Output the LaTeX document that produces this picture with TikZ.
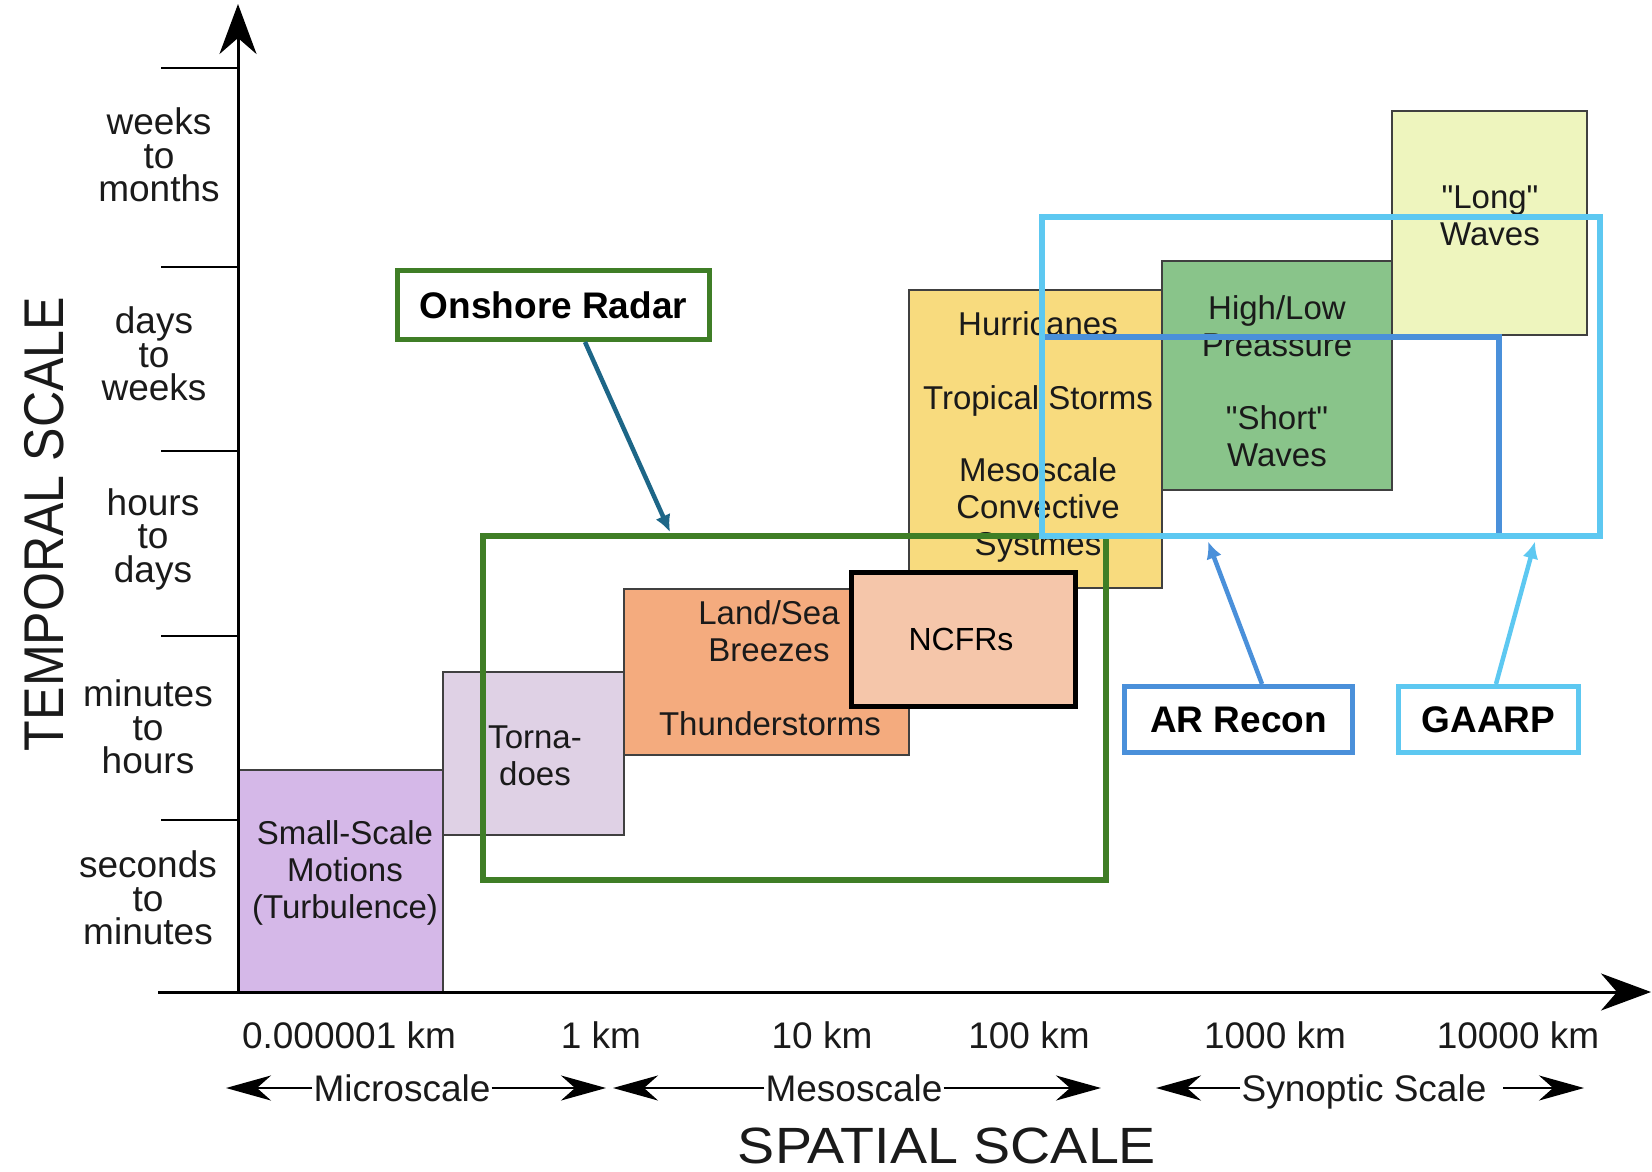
\documentclass[tikz,border=0pt]{standalone}
\usepackage{fontspec}
\setmainfont{Liberation Sans}
\usetikzlibrary{arrows.meta,calc}

\definecolor{cSmall}{HTML}{D5B8E8}
\definecolor{cTorn}{HTML}{DFD1E5}
\definecolor{cLand}{HTML}{F4AB7E}
\definecolor{cNCFR}{HTML}{F5C6AA}
\definecolor{cHurr}{HTML}{F8DB7E}
\definecolor{cHigh}{HTML}{89C48A}
\definecolor{cLong}{HTML}{EEF5BE}
\definecolor{cGreen}{HTML}{3F7E26}
\definecolor{cTeal}{HTML}{1D6687}
\definecolor{cBlue}{HTML}{4A90DA}
\definecolor{cLBlue}{HTML}{5DC8F1}
\definecolor{cText}{HTML}{1A1A1A}

\begin{document}
\begin{tikzpicture}[x=1pt,y=-1pt,
  phenom/.style={draw=black!75, line width=2pt, inner sep=0pt, anchor=north west},
  overlay box/.style={line width=5.5pt, inner sep=0pt, anchor=north west},
  labelbox/.style={line width=5pt, fill=white, inner sep=0pt, anchor=north west,
    font=\fontsize{37}{40}\selectfont\bfseries, text=black},
  boxtext/.style={align=center, inner sep=0pt, text=cText,
    font=\fontsize{33}{37}\selectfont},
  ticktext/.style={align=center, inner sep=0pt, text=cText,
    font=\fontsize{37}{33.5}\selectfont},
  kmtext/.style={inner sep=0pt, text=cText, font=\fontsize{37}{40}\selectfont,
    text height=27pt, text depth=8pt},
  scaletext/.style={inner sep=1pt, text=cText, font=\fontsize{37}{40}\selectfont,
    text height=27pt, text depth=8pt},
  scalearrow/.style={line width=2.5pt, draw=black, -{Stealth[length=45pt,width=25pt,inset=14pt]}},
  axis/.style={line width=3pt, draw=black, -{Stealth[length=50pt,width=37pt,inset=16pt]}},
  tick/.style={line width=2.5pt, draw=black},
  connector/.style={line width=4.5pt, -{Latex[length=17pt,width=16pt]}}
]
\useasboundingbox (0,0) rectangle (1652,1172);

% ---- phenomenon boxes ----
\node[phenom, fill=cSmall, minimum width=204pt, minimum height=223pt] (small) at (238,769) {};
\node[phenom, fill=cTorn,  minimum width=181pt, minimum height=163pt] (torn)  at (442,671) {};
\node[phenom, fill=cLand,  minimum width=285pt, minimum height=166pt] (land)  at (623,588) {};
\node[phenom, fill=cHurr,  minimum width=253pt, minimum height=298pt] (hurr)  at (908,289) {};
\node[phenom, fill=cHigh,  minimum width=230pt, minimum height=229pt] (high)  at (1161,260) {};
\node[phenom, fill=cLong,  minimum width=195pt, minimum height=224pt] (long)  at (1391,110) {};
\node[phenom, draw=black, line width=5pt, fill=cNCFR, minimum width=224pt, minimum height=134pt] (ncfr) at (849,570) {};

% ---- texts in boxes ----
\node[boxtext] (tsmall) at (345,873) {Small-Scale\\Motions\\(Turbulence)};
\node[boxtext] (ttorn)  at (535,756) {Torna-\\does};
\node[boxtext] (tland)  at (769,631) {Land/Sea\\Breezes};
\node[boxtext] (tthun)  at (770,724) {Thunderstorms};
\node[boxtext, font=\fontsize{32}{36}\selectfont, text=black] (tncfr) at (961,639) {NCFRs};
\node[boxtext] (thurr)  at (1038,324) {Hurricanes};
\node[boxtext] (ttrop)  at (1038,401) {Tropical Storms};
\node[boxtext] (tmeso)  at (1038,510) {Mesoscale\\Convective\\Systmes};
\node[boxtext] (thigh)  at (1277,326) {High/Low\\Preassure};
\node[boxtext] (tshort) at (1277,436) {\textquotedbl Short\textquotedbl\\Waves};
\node[boxtext] (tlong)  at (1490,216) {\textquotedbl Long\textquotedbl\\Waves};

% ---- axes ----
\coordinate (origin) at (238,992);
\coordinate (ytop) at (238,4);
\coordinate (xleft) at (158,992);
\coordinate (xright) at (1651,992);
\draw[axis] (origin) -- (ytop);
\draw[axis] (xleft) -- (xright);
\foreach \yy/\nm in {68/t1,267/t2,451/t3,636/t4,820/t5}{
  \coordinate (\nm a) at (161,\yy);
  \coordinate (\nm b) at (238,\yy);
  \draw[tick] (\nm a) -- (\nm b);
}

% ---- temporal labels ----
\node[ticktext] (lw) at (159,155) {weeks\\to\\months};
\node[ticktext] (ld) at (154,354) {days\\to\\weeks};
\node[ticktext] (lh) at (153,539) {hours\\to\\days};
\node[ticktext] (lm) at (148,727) {minutes\\to\\hours};
\node[ticktext] (ls) at (148,898) {seconds\\to\\minutes};

\node[rotate=90, inner sep=0pt, text=cText, font=\fontsize{56}{60}\selectfont] (temporal) at (44,524)
  {\scalebox{0.895}[1]{TEMPORAL SCALE}};

% ---- spatial labels ----
\node[kmtext] (k1) at (349,1039) {0.000001 km};
\node[kmtext] (k2) at (601,1039) {1 km};
\node[kmtext] (k3) at (822,1039) {10 km};
\node[kmtext] (k4) at (1029,1039) {100 km};
\node[kmtext] (k5) at (1275,1039) {1000 km};
\node[kmtext] (k6) at (1518,1039) {10000 km};

\node[scaletext] (micro) at (402,1092) {Microscale};
\node[scaletext] (meso) at (854,1092) {Mesoscale};
\node[scaletext] (syn) at (1364,1092) {Synoptic Scale};
\coordinate (microL) at (226,1088);
\coordinate (microR) at (606,1088);
\coordinate (mesoL) at (613,1088);
\coordinate (mesoR) at (1101,1088);
\coordinate (synL) at (1156,1088);
\coordinate (synR) at (1584,1088);
\coordinate (synRs) at (1503,1088);
\draw[scalearrow] (micro.west |- microL) -- (microL);
\draw[scalearrow] (micro.east |- microR) -- (microR);
\draw[scalearrow] (meso.west |- mesoL) -- (mesoL);
\draw[scalearrow] (meso.east |- mesoR) -- (mesoR);
\draw[scalearrow] (syn.west |- synL) -- (synL);
\draw[scalearrow] (synRs) -- (synR);

\node[inner sep=0pt, text=cText, font=\fontsize{51}{54}\selectfont] (spatial) at (947,1146) {\scalebox{1.09}[1]{SPATIAL SCALE}};

% ---- overlay boxes ----
\node[overlay box, draw=cGreen, minimum width=623pt, minimum height=344pt] (green) at (480,533) {};
\node[overlay box, draw=cBlue, minimum width=457pt, minimum height=199pt] (blue) at (1039,334) {};
\node[overlay box, draw=cLBlue, minimum width=558pt, minimum height=319pt] (lblue) at (1039,214) {};

% ---- label boxes ----
\node[labelbox, draw=cGreen, minimum width=312pt, minimum height=69pt] (onshore) at (395,268) {Onshore Radar};
\node[labelbox, draw=cBlue, minimum width=228pt, minimum height=66pt] (arrecon) at (1122,684) {AR Recon};
\node[labelbox, draw=cLBlue, minimum width=180pt, minimum height=66pt] (gaarp) at (1396,684) {GAARP};

% ---- connectors ----
\draw[connector, draw=cTeal, fill=cTeal] ([xshift=190pt]onshore.south west) -- ([xshift=190pt,yshift=1pt]green.north west);
\draw[connector, draw=cBlue, fill=cBlue] ([xshift=140pt]arrecon.north west) -- ([xshift=169pt,yshift=-3pt]lblue.south west);
\draw[connector, draw=cLBlue, fill=cLBlue] ([xshift=100pt]gaarp.north west) -- ([xshift=496pt,yshift=-3pt]lblue.south west);
\end{tikzpicture}
\end{document}
